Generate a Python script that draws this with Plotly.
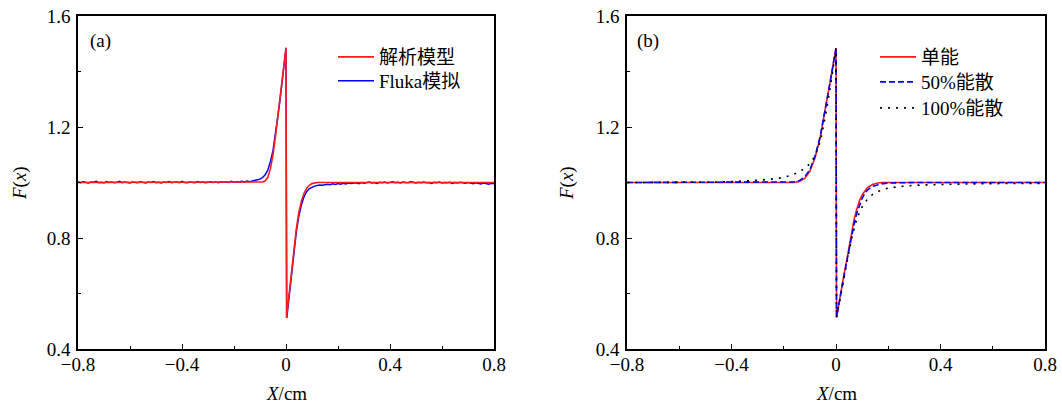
import plotly.graph_objects as go

# ---------------- Panel (a) ----------------
ana_x = [-0.8, -0.3, -0.15, -0.12, -0.10, -0.09, -0.08, -0.07, -0.06, -0.05, -0.04, -0.03,
         -0.02, -0.01, 0.0, 0.002, 0.01, 0.02, 0.03, 0.04, 0.05, 0.06, 0.07, 0.08, 0.09,
         0.10, 0.12, 0.15, 0.3, 0.8]
ana_y = [1.0, 1.0, 1.0, 1.0, 1.0, 1.002, 1.006, 1.018, 1.05, 1.10, 1.17, 1.245,
         1.32, 1.395, 1.486, 0.512, 0.58, 0.67, 0.755, 0.835, 0.895, 0.935, 0.962, 0.98, 0.99,
         0.996, 1.0, 1.0, 1.0, 1.0]

fluka_left_y = [  # x = -0.80 ... -0.14, step 0.01
    1.002, 0.999, 1.003, 1.000, 0.998, 1.002, 1.001, 1.004, 0.999, 1.001,
    0.998, 1.003, 1.000, 1.002, 0.999, 1.001, 1.004, 0.999, 1.002, 1.000,
    0.998, 1.002, 1.001, 0.999, 1.003, 1.000, 0.998, 1.002, 1.000, 1.003,
    0.999, 1.001, 0.998, 1.002, 1.000, 1.003, 0.999, 1.001, 1.002, 0.999,
    1.004, 1.000, 0.999, 1.002, 1.001, 0.999, 1.003, 1.000, 1.002, 0.999,
    1.001, 1.003, 1.000, 1.002, 0.999, 1.003, 1.001, 1.002, 1.000, 1.004,
    1.001, 1.003, 1.002, 1.004, 1.002, 1.005, 1.003]
fluka_mid_x = [-0.13, -0.12, -0.11, -0.10, -0.09, -0.08, -0.07, -0.06, -0.05, -0.04, -0.03,
               -0.02, -0.01, 0.0, 0.003, 0.01, 0.02, 0.03, 0.04, 0.05, 0.06, 0.07, 0.08, 0.09]
fluka_mid_y = [1.005, 1.006, 1.008, 1.012, 1.018, 1.028, 1.045, 1.075, 1.115, 1.175, 1.248,
               1.322, 1.396, 1.484, 0.512, 0.575, 0.662, 0.745, 0.825, 0.882, 0.922, 0.950, 0.968, 0.978]
fluka_right_y = [  # x = 0.10 ... 0.80, step 0.01
    0.984, 0.987, 0.989, 0.991, 0.990, 0.993, 0.994, 0.992, 0.995, 0.993,
    0.996, 0.994, 0.997, 0.995, 0.998, 0.996, 0.997, 0.999, 0.996, 1.000,
    0.997, 0.999, 1.002, 0.998, 1.000, 0.997, 1.001, 0.999, 1.002, 0.998,
    1.000, 1.003, 0.999, 1.001, 0.998, 1.002, 1.000, 0.999, 1.003, 1.000,
    0.998, 1.001, 0.999, 1.002, 0.999, 1.000, 0.997, 1.001, 0.999, 1.002,
    0.998, 1.000, 0.999, 1.001, 0.997, 1.000, 0.998, 1.001, 0.999, 0.997,
    1.000, 0.998, 0.996, 0.999, 0.997, 0.995, 0.998, 0.996, 0.994, 0.997,
    0.995]

# ---------------- Panel (b) ----------------
b_x = [-0.8, -0.3, -0.18, -0.16, -0.14, -0.12, -0.10, -0.08, -0.06, -0.04, -0.02, -0.01,
       0.0, 0.002, 0.01, 0.02, 0.03, 0.04, 0.05, 0.06, 0.07, 0.08, 0.09, 0.10, 0.11, 0.12,
       0.14, 0.16, 0.18, 0.2, 0.3, 0.8]
mono_y = [1.0, 1.0, 1.0, 1.0, 1.004, 1.015, 1.04, 1.09, 1.165, 1.265, 1.375, 1.43,
          1.484, 0.514, 0.56, 0.615, 0.665, 0.715, 0.77, 0.825, 0.87, 0.905, 0.935, 0.955, 0.970, 0.982,
          0.993, 0.998, 1.0, 1.0, 1.0, 1.0]
half_y = [1.0, 1.0, 1.001, 1.002, 1.007, 1.02, 1.046, 1.095, 1.168, 1.265, 1.375, 1.43,
          1.484, 0.514, 0.56, 0.612, 0.66, 0.71, 0.76, 0.81, 0.853, 0.89, 0.92, 0.943, 0.96, 0.973,
          0.986, 0.992, 0.996, 0.998, 1.0, 1.0]
full_x = [-0.8, -0.6, -0.5, -0.4, -0.35, -0.3, -0.25, -0.2, -0.16, -0.12, -0.10, -0.08, -0.06,
          -0.04, -0.02, 0.0, 0.002, 0.02, 0.04, 0.06, 0.08, 0.10, 0.12, 0.14, 0.16, 0.18, 0.20,
          0.25, 0.30, 0.40, 0.50, 0.60, 0.80]
full_y = [1.0, 1.0, 1.001, 1.003, 1.005, 1.008, 1.012, 1.018, 1.03, 1.05, 1.068, 1.095, 1.15,
          1.24, 1.355, 1.484, 0.514, 0.605, 0.70, 0.80, 0.87, 0.912, 0.94, 0.957, 0.968, 0.975, 0.98,
          0.986, 0.99, 0.993, 0.995, 0.996, 0.997]

names_a = ["解析模型", "Fluka模拟"]
names_b = ["单能", "50%能散", "100%能散"]
x_ticks = [-0.8, -0.4, 0, 0.4, 0.8]
x_ticktext = ["\u22120.8", "\u22120.4", "0", "0.4", "0.8"]
y_ticks = [0.4, 0.8, 1.2, 1.6]
y_ticktext = ["0.4", "0.8", "1.2", "1.6"]

fluka_x = [round(-0.80 + 0.01 * i, 3) for i in range(len(fluka_left_y))] + fluka_mid_x + \
          [round(0.10 + 0.01 * i, 3) for i in range(len(fluka_right_y))]
fluka_y = fluka_left_y + fluka_mid_y + fluka_right_y

W, H = 1062, 404
FONT = "Liberation Serif, 'Noto Sans CJK SC', serif"
FS = 19


def px_x(p):
    return p / W


def px_y(p):
    return 1 - p / H


RED = "#ff1a1a"
BLUE = "#0000ff"

fig = go.Figure()
fig.add_trace(go.Scatter(x=fluka_x, y=fluka_y, mode="lines", name=names_a[1],
                         line=dict(color=BLUE, width=1.5), xaxis="x", yaxis="y", legend="legend2"))
fig.add_trace(go.Scatter(x=ana_x, y=ana_y, mode="lines", name=names_a[0],
                         line=dict(color=RED, width=1.6), xaxis="x", yaxis="y", legend="legend"))
fig.add_trace(go.Scatter(x=b_x, y=mono_y, mode="lines", name=names_b[0],
                         line=dict(color=RED, width=1.6), xaxis="x2", yaxis="y2", legend="legend3"))
fig.add_trace(go.Scatter(x=b_x, y=half_y, mode="lines", name=names_b[1],
                         line=dict(color=BLUE, width=1.6, dash="6px,3px"), xaxis="x2", yaxis="y2",
                         legend="legend4"))
fig.add_trace(go.Scatter(x=full_x, y=full_y, mode="lines", name=names_b[2],
                         line=dict(color="#000000", width=1.6, dash="2px,6px"), xaxis="x2", yaxis="y2",
                         legend="legend5"))

ax_common = dict(showline=True, linecolor="black", linewidth=1.5, mirror=True,
                 ticks="inside", ticklen=5, tickwidth=1.2, tickcolor="black",
                 showgrid=False, zeroline=False, automargin=False, ticklabeloverflow="allow",
                 tickfont=dict(family=FONT, size=FS, color="black"))

xa = dict(ax_common, range=[-0.8, 0.8], tickvals=x_ticks, ticktext=x_ticktext, ticklabelstandoff=-3,
          minor=dict(ticks="inside", ticklen=3, tickwidth=1.2, tickcolor="black", dtick=0.2, tick0=0))
ya = dict(ax_common, range=[0.4, 1.6], tickvals=y_ticks, ticktext=y_ticktext, ticklabelstandoff=2,
          minor=dict(ticks="inside", ticklen=3, tickwidth=1.2, tickcolor="black", dtick=0.2, tick0=0.4))

A_L, A_R, B_L, B_R, TOP, BOT = 78, 494, 627, 1045, 16, 349


def leg(xs, ys):
    return dict(x=px_x(xs), y=px_y(ys), xanchor="left", yanchor="middle",
                bgcolor="rgba(0,0,0,0)", borderwidth=0,
                font=dict(family=FONT, size=FS, color="black"), itemwidth=36)


def ann(text, xs, ys, angle=0):
    return dict(text=text, x=px_x(xs), y=px_y(ys), xref="paper", yref="paper",
                xanchor="center", yanchor="middle", showarrow=False, textangle=angle,
                font=dict(family=FONT, size=FS, color="black"))


fig.update_layout(
    width=W, height=H, margin=dict(l=0, r=0, t=0, b=0, autoexpand=False),
    paper_bgcolor="white", plot_bgcolor="white",
    font=dict(family=FONT, size=FS, color="black"),
    xaxis=dict(xa, domain=[px_x(A_L), px_x(A_R)], anchor="y"),
    yaxis=dict(ya, domain=[px_y(BOT), px_y(TOP)], anchor="x"),
    xaxis2=dict(xa, domain=[px_x(B_L), px_x(B_R)], anchor="y2"),
    yaxis2=dict(ya, domain=[px_y(BOT), px_y(TOP)], anchor="x2"),
    legend=leg(333, 57),
    legend2=leg(333, 81),
    legend3=leg(875, 57),
    legend4=leg(875, 82),
    legend5=leg(875, 108),
    showlegend=True,
    annotations=[
        ann("(a)", 100, 41),
        ann("(b)", 648, 41),
        ann("<i>F</i>(<i>x</i>)", 20, 183, -90),
        ann("<i>F</i>(<i>x</i>)", 567, 183, -90),
        ann("<i>X</i>/cm", (A_L + A_R) / 2, 393),
        ann("<i>X</i>/cm", (B_L + B_R) / 2, 393),
    ],
)

fig.write_html("out.html", config={"displayModeBar": False},
               post_script="document.body.style.margin='0';document.body.style.overflow='hidden';")
